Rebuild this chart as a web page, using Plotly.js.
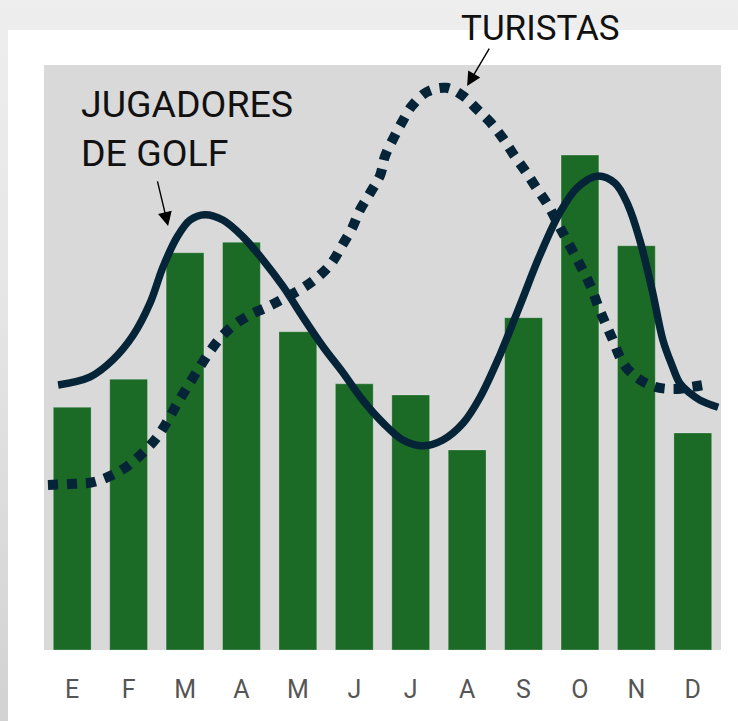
<!DOCTYPE html>
<html>
<head>
<meta charset="utf-8">
<script src="https://cdn.plot.ly/plotly-3.0.1.min.js"></script>
<style>
  html, body { margin:0; padding:0; width:738px; height:721px; overflow:hidden; }
  body { background: linear-gradient(to bottom, #eeeeee 0%, #e6e6e6 40%, #d2d2d2 100%); position:relative; }
  #panel { position:absolute; left:8px; top:30px; width:730px; height:691px; background:#ffffff; }
  #chart { position:absolute; left:0; top:0; width:738px; height:721px; }
</style>
</head>
<body>
<div id="panel"></div>
<div id="chart"></div>
<script>
// Categories (months, Spanish initials)
const months = ["E","F","M","A","M","J","J","A","S","O","N","D"];
const monthPos = [0,1,2,3,4,5,6,7,8,9,10,11];

// Monthly bars (relative index, 0-100)
const barValues = [41.5, 46.3, 67.9, 69.7, 54.4, 45.5, 43.6, 34.2, 56.8, 84.6, 69.1, 37.1];

// "Jugadores de golf" smooth curve
const golfX = [-0.25,0.32,0.72,1.08,1.38,1.61,1.86,2.09,2.35,2.67,3.03,3.38,3.74,4.09,4.45,4.80,5.15,5.51,5.86,6.22,6.57,6.93,7.23,7.58,7.94,8.29,8.65,8.96,9.30,9.62,9.85,10.06,10.28,10.47,10.63,10.77,10.95,11.13,11.45];
const golfY = [45.3,46.7,49.6,53.8,59.3,65.5,70.6,73.5,74.4,73.5,70.6,66.7,62.1,56.9,51.8,47.4,42.7,38.8,35.9,34.9,35.9,38.8,43.2,50.4,59.0,67.5,74.9,79.1,81.0,79.8,76.1,70.1,61.5,53.0,48.7,45.6,43.9,42.7,41.5];

// "Turistas" dotted curve
const touristX = [-0.43,0.01,0.37,0.71,0.99,1.25,1.49,1.68,1.86,2.03,2.23,2.41,2.62,2.85,3.15,3.45,3.77,4.09,4.36,4.60,4.78,4.96,5.10,5.28,5.46,5.54,5.69,5.85,6.02,6.29,6.63,6.93,7.17,7.42,7.64,7.83,8.03,8.22,8.43,8.65,8.91,9.18,9.35,9.57,9.76,9.99,10.29,10.65,11.00,11.30];
const touristY = [28.2,28.4,28.7,29.9,31.5,33.7,36.2,39.0,42.1,44.8,47.9,50.6,53.3,55.4,57.3,58.6,60.2,61.9,63.8,66.2,69.1,72.1,75.2,78.1,81.2,84.3,87.4,90.3,93.0,95.4,96.1,94.7,92.5,90.1,87.4,84.6,81.9,79.1,76.1,72.1,67.5,62.4,58.1,53.3,49.1,46.7,45.1,44.6,45.0,45.5];

const labelGolf = "JUGADORES<br>DE GOLF";
const labelTourists = "TURISTAS";

const navy = "#062438";

const traces = [
  {
    type: "bar",
    x: monthPos,
    y: barValues,
    width: 0.67,
    marker: { color: "#1b6a26", line: { color: "rgba(255,255,255,0.25)", width: 1 } },
    hoverinfo: "skip"
  },
  {
    type: "scatter",
    mode: "lines",
    x: golfX,
    y: golfY,
    line: { color: navy, width: 7.5, shape: "spline", smoothing: 1 },
    hoverinfo: "skip"
  },
  {
    type: "scatter",
    mode: "lines",
    x: touristX,
    y: touristY,
    line: { color: navy, width: 10, shape: "spline", smoothing: 1, dash: "10px,9px" },
    hoverinfo: "skip"
  }
];

const layout = {
  width: 738,
  height: 721,
  margin: { l: 44, r: 17, t: 65, b: 71, pad: 0 },
  paper_bgcolor: "rgba(0,0,0,0)",
  plot_bgcolor: "#d9d9d9",
  showlegend: false,
  bargap: 0.33,
  xaxis: {
    range: [-0.5, 11.5],
    tickvals: monthPos,
    ticktext: months,
    showgrid: false,
    zeroline: false,
    showline: false,
    ticks: "",
    ticklabelstandoff: 22,
    tickfont: { family: "Liberation Sans Narrow, Roboto, sans-serif", size: 25, color: "#555555" },
    fixedrange: true
  },
  yaxis: {
    range: [0, 100],
    showgrid: false,
    zeroline: false,
    showline: false,
    showticklabels: false,
    ticks: "",
    fixedrange: true
  },
  annotations: [
    {
      xref: "paper", yref: "paper",
      x: 0.052, y: 0.975,
      xanchor: "left", yanchor: "top", align: "left",
      text: labelGolf,
      showarrow: false,
      font: { family: "Roboto, sans-serif", size: 37.5, color: "#111111" }
    },
    {
      xref: "x", yref: "y",
      x: 1.70, y: 72.5,
      ax: -11, ay: -46,
      text: "",
      showarrow: true,
      arrowhead: 2, arrowsize: 2, arrowwidth: 1.4, arrowcolor: "#000000"
    },
    {
      xref: "paper", yref: "paper",
      x: 0.733, y: 1.063,
      xanchor: "center", yanchor: "middle",
      text: labelTourists,
      showarrow: false,
      font: { family: "Roboto, sans-serif", size: 35, color: "#111111" }
    },
    {
      xref: "x", yref: "y",
      x: 7.0, y: 96.4,
      ax: 23, ay: -39,
      text: "",
      showarrow: true,
      arrowhead: 2, arrowsize: 2, arrowwidth: 1.4, arrowcolor: "#000000"
    }
  ]
};

Plotly.newPlot("chart", traces, layout, { staticPlot: true, displayModeBar: false });
</script>
</body>
</html>
